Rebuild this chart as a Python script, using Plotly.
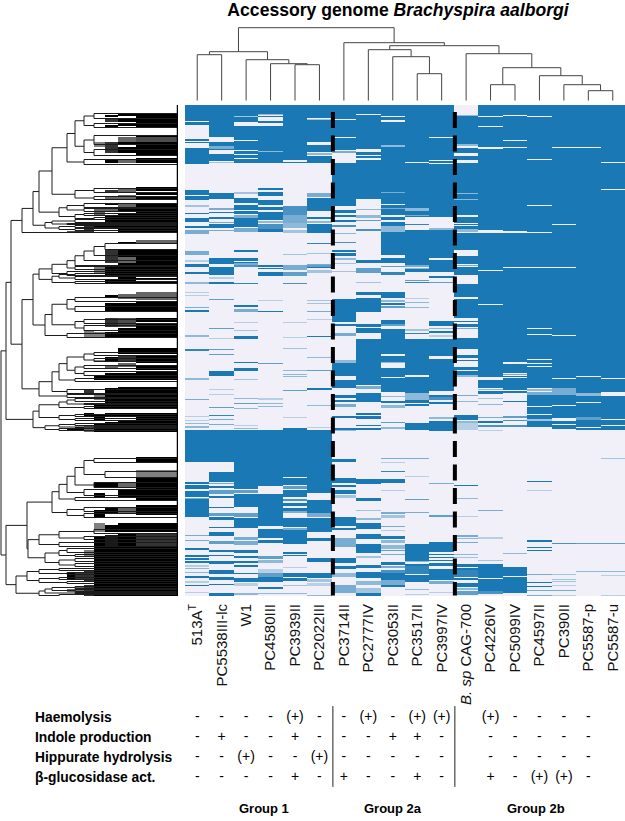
import numpy as np
import plotly.graph_objects as go

# strain order along the heatmap
strains = ["513A<sup>T</sup>", "PC5538III-lc", "W1", "PC4580III", "PC3939II", "PC2022III",
           "PC3714II", "PC2777IV", "PC3053II", "PC3517II", "PC3997IV", "<i>B. sp</i> CAG-700",
           "PC4226IV", "PC5099IV", "PC4597II", "PC390II", "PC5587-p", "PC5587-u"]
n_genes = 491

# gene presence per strain: (first row, end row[, level]), everything else is absent
c0 = [(0,16),(17,20),(34,36),(37,38),(43,59),(85,90),(91,95),(100,102,.4),(108,109),(113,117),(121,123),(125,129,.6),(146,150,.6),
      (155,157,.3),(159,162),(167,169),(177,179,.5),(187,188,.3),(190,191,.3),(202,203,.6),(205,207),(230,232,.5),(244,246,.9),(273,275,.5),(294,295,.6),(311,312,.3),(315,316,.3),(318,319,.5),(321,323,.5),
      (325,357),(377,379),(380,382),(382,384),(386,392),(393,394,.6),(394,412),(430,431,.6),(435,436,.6),(443,445),(450,452),(453,455),(456,458),(460,462,.3),(463,464,.5),(467,468,.5),(471,473),(476,478,.3),(480,481),(487,488,.3)]
c1 = [(0,32),(37,41),(41,44,.6),(44,45),(49,56),(57,58,.4),(88,94),(103,105,.6),(107,108),(112,114),(117,118,.6),(119,123),(125,126,.6),(153,159),
      (155,158),(162,170),(172,174,.3),(177,179),(194,195,.7),(223,224,.7),(233,234,.3),(244,245,.7),(249,250,.7),(266,271),(284,285,.3),(289,290,.3),(302,303,.7),(310,311,.9),(314,315,.6),(319,320,.6),
      (325,357),(367,377),(378,379,.6),(381,383),(385,389,.7),(391,393),(402,403),(408,411,.7),(412,415),(422,423),(427,431),(436,439,.7),(445,447),(450,451),(456,459),(465,469),(472,475),(479,480),(488,491)]
c2 = [(0,11),(11,12,.4),(12,17),(21,35),(36,45),(46,49),(50,53),(54,58),(87,88,.4),(88,89,.4),(93,98),(100,105),(106,109),(110,113,.6),(113,122),(123,127,.6),(145,147),(153,156),(157,158),(158,160,.6),
      (160,162,.8),(178,179,.9),(200,202),(204,207,.6),(217,218,.3),(225,226,.4),(231,234),(257,258),(263,266),(274,275,.4),(293,294,.5),(298,299,.7),(303,304,.5),(320,321,.3),(323,324,.5),
      (325,384),(385,388,.7),(389,402),(408,412,.7),(413,423),(432,435,.6),(436,440,.6),(445,448),(451,453),(456,458),(460,462),(468,469),(473,477),(478,481,.3),(488,490,.5)]
c3 = [(0,9),(9,10,.5),(11,12),(16,18),(21,46),(46,47,.5),(47,58),(83,85),(87,91),(95,100),(102,105),(107,115),(116,118,.5),(119,124,.8),(124,127),
      (160,162),(163,164),(167,171),(195,196,.3),(206,207),(258,259,.7),(293,295,.3),(298,299,.5),(301,302,.5),
      (325,381),(389,395),(395,421),(424,433),(435,438),(451,454,.7),(455,458,.5),(464,468,.3),(468,472,.7),(472,477),(482,484),(488,489,.5)]
c4 = [(0,55),(57,58),(101,110,.8),(110,113,.6),(113,118,.6),(118,123,.5),(125,128,.4),(149,150,.4),
      (160,165,.6),(167,171,.7),(178,179,.8),(217,218,.3),(232,233,.3),(243,244,.4),(265,266,.5),(269,270,.5),(271,272,.5),(285,286,.7),(312,313,.3),(323,325),
      (325,372),(373,380),(381,384,.7),(385,392),(394,396,.8),(398,401),(403,406),(406,408,.6),(413,422),(423,425,.6),(425,439),(447,449),(450,451),(462,463,.3),(468,472),(473,476),(480,481,.4),(488,489,.5)]
c5 = [(0,13),(14,15,.4),(15,37),(40,47),(48,50,.5),(51,58),(88,92,.6),(93,106),(112,114),(116,118,.5),(119,128),(138,139,.9),(148,149,.4),(159,160,.6),
      (160,162,.7),(162,163),(165,168,.4),(195,196,.4),(198,199,.4),(206,207,.6),(214,215,.3),(231,232),(252,253,.5),(265,266,.7),(283,285),(300,301,.5),(322,323,.3),
      (325,388),(395,408),(408,412,.6),(413,427),(433,436),(453,457),(468,473),(474,477,.4),(478,481,.3),(490,491,.5)]
c6 = [(0,14),(15,32),(33,45),(46,48,.6),(58,101),(105,108),(110,112),(115,117),(120,122,.8),(128,129,.5),(137,138,.8),(145,147),(148,151),(153,155,.5),
      (158,159,.4),(166,167,.4),(194,207),(207,209,.6),(207,217),(219,221),(228,231,.6),(255,258,.5),(258,271),(275,283),(290,293),(295,297),(299,302,.6),(311,313),(323,325),
      (325,326,.5),(354,357),(373,378),(380,382),(385,389),(390,393,.4),(412,421),(423,425),(433,442,.6),(453,458),(461,464),(468,472,.5),(480,488,.6)]
c7 = [(0,9),(10,44),(47,50),(51,53),(55,94),(104,105,.5),(110,113,.5),(115,116,.7),(124,126,.8),
      (155,158),(163,168,.7),(177,178,.4),(187,190),(193,207),(219,222),(223,228),(234,257),(257,280),(281,284,.6),(288,297),(308,310),(311,314),(320,321),(323,325),
      (374,379),(393,396),(405,406,.4),(413,415,.5),(418,424),(429,434),(439,448),(451,453,.4),(460,463),(467,473),(476,480,.5),(483,488,.4),(488,491)]
c8 = [(0,11),(12,15),(17,40),(40,42,.5),(42,87),(87,88,.6),(88,99),(100,103),(103,104,.6),(104,110),(112,115),(117,121),(121,127,.5),(127,150),(153,158),
      (161,162,.7),(167,170,.9),(187,193),(195,197,.5),(198,200),(201,203,.7),(215,219),(219,221,.7),(224,233),(233,249),(251,257),(257,258,.5),(263,272),(273,274,.6),(273,287),(291,292,.5),(296,298),(300,303,.5),(317,318,.7),(322,324,.5),
      (353,354,.6),(357,358,.3),(366,367,.9),(374,378),(385,386,.3),(407,409,.6),(410,412,.4),(412,413,.4),(421,422,.6),(425,426,.3),(431,434),(435,438,.5),(440,444,.5),(445,446,.7),(449,450,.6),(457,460),(461,463,.6),(465,468,.8),(468,475),(475,480,.6),(480,482)]
c9 = [(0,57),(58,103),(103,106,.5),(106,110),(110,111,.6),(111,112),(119,120,.9),(125,160),
      (155,159),(160,162,.6),(163,164,.5),(164,167),(175,176,.7),(177,178,.9),(193,194,.3),(197,198,.5),(202,203,.5),(224,226,.4),(228,229,.9),(234,270),(272,288),(288,295,.5),(295,298),(299,301),(318,325),
      (353,354,.6),(371,372,.3),(394,395,.7),(407,408,.6),(439,456),(456,457,.5),(459,461),(461,469,.9),(470,477),(484,485,.5),(489,490,.3)]
c10 = [(0,32),(33,55),(56,58),(59,112),(123,125,.5),(125,153),(155,167),(171,173),(177,178,.7),(216,221),(223,224,.5),(226,228),(230,232,.3),(234,251),(254,286),(290,292),(292,295,.8),(297,299),(312,314,.5),(316,320),(320,325),
       (325,326),(378,379,.6),(410,412,.7),(437,447),(449,450),(452,453),(455,456),(458,461),(464,466),(466,475),(476,479,.6),(487,488,.3)]
c11 = [(10,11,.5),(11,39),(39,41,.5),(43,48),(51,55),(58,88),(88,89,.5),(89,94),(94,95,.5),(95,110),(112,118),(119,120),(121,124),(124,127,.5),(128,145),(151,158),
       (155,159),(160,161,.6),(162,170),(179,192),(194,213),(216,217),(219,222),(223,224,.6),(233,244),(250,253),(255,256),(262,265),(266,270),(270,272,.5),(290,291,.6),(296,297,.5),(310,315),(316,318,.5),(318,325,.3),
       (380,381),(393,394,.5),(411,412,.3),(430,432,.6),(433,434,.5),(437,438,.6),(449,450,.5),(452,453,.4),(459,462),(463,465),(465,472,.9),(473,475),(478,482),(483,485,.5),(486,490,.7)]
c12 = [(0,11),(12,21),(22,42),(44,125),(128,165),(166,199),(200,272),(275,283),(284,285,.5),(286,289),(293,294,.4),(299,300,.5),(312,313,.6),(316,318),(320,322,.8),
       (325,326,.3),(405,406,.6),(432,434,.3),(455,456,.4),(459,465),(465,473),(474,486),(486,489,.8)]
c13 = [(0,10),(11,35),(36,42),(43,126),(128,162),(163,257),(259,268),(269,270,.6),(271,272),(273,285),(286,288),(296,297),(311,313,.7),(315,316,.8),(320,322,.8),
       (448,449,.5),(462,471),(472,488)]
c14 = [(0,11),(12,54),(55,100),(101,127),(128,162),(163,223),(224,229),(230,254),(255,258),(259,261),(262,283),(284,286,.5),(287,290,.6),(290,301),(302,309),(310,314),(314,316,.4),(316,322),
       (376,377),(385,386,.3),(435,437),(442,443),(445,446),(469,470,.6),(477,478),(481,482),(485,486,.6),(490,491,.6)]
c15 = [(0,42),(43,119),(120,162),(163,230),(231,273),(274,283),(283,290,.6),(290,300),(301,313),(316,319),(320,324),
       (438,439,.8),(469,470,.4),(474,475,.4),(476,477,.4),(480,481,.3),(485,486,.6),(490,491,.3)]
c16 = [(0,42),(43,271),(272,288),(288,291,.5),(291,297),(298,312),(312,315,.7),(315,322),(323,325),
       (438,439,.7),(466,467,.5)]
c17 = [(0,57),(58,84),(85,273),(274,287),(291,314),(315,320),(321,325),
       (353,354,.4),(438,439,.7),(466,467,.5),(470,471,.3),(490,491,.3)]
columns = [c0, c1, c2, c3, c4, c5, c6, c7, c8, c9, c10, c11, c12, c13, c14, c15, c16, c17]

# strain dendrogram: (height, child, child), leaves are strain numbers
left_group = (49, (46, 0, 1), (41, 2, (37, 3, (36, 4, 5))))
mid_group = (51, 7, (44, 8, (27, 9, 10)))
right_group = (47, 11, (33, (16, 12, 13), (25, 14, (16, 15, (10, 16, 17)))))
strain_tree = (73, left_group, (58, 6, (55, mid_group, right_group)))

# gene dendrogram: (distance from root, child, child), leaves are gene rows
t_a = (75, (84, (94, 8, 13), (94, 18, 22)), (84, (94, 30, 39), (94, 44, 50)))
t_b = (52, (67, t_a, (84, 54, 59)), (75, (94, 83, 87), (94, 91, 94)))
t_c = (59, (67, (84, 98, 102), (84, 103, 106)), (75, (84, 108, 110), (94, 112, 114)))
t_d = (45, (52, (75, 114, 117), (67, 118, 119)), (59, (75, 120, 122), (75, 123, 125)))
t_e1 = (52, (67, (75, (84, (94, (105, 138, 144), 150), 155), 160), (75, 161, 164)), (67, 166, 170))
t_e2 = (52, (59, (75, 168, 170), (75, 171, 174)), (75, 176, 178))
t_f = (45, (52, (67, (75, 192, 196), (75, 201, 206)), (75, (84, 214, 218), (84, 220, 225))), (67, 228, 232))
t_g = (39, (52, (59, (67, (84, (94, 247, 250), (94, 253, 256)), (75, (84, 260, 263), (84, 266, 270))), (75, 273, 276)), (67, 284, 288)), (67, 289, 292))
t_h = (33, (39, (59, (67, (75, 293, 296), (84, 298, 299)), (84, 301, 303)), (59, (75, 309, 311), (75, 313, 315))),
       (45, (59, (75, 318, 320), (94, 321, 322)), (59, 323, 325)))
t_i = (75, (84, (94, 353, 357), (105, 366, 372)), (94, 377, 382))
t_j = (52, (59, (67, t_i, (84, 384, 390)), (75, 392, 395)), (67, (84, 402, 406), (84, 408, 412)))
t_l = (39, (59, (94, 424, 428), (84, 431, 434)), (59, 437, 441))
t_m = (45, (59, (67, 443, 447), (75, 449, 451)), (59, (75, 453, 456), (75, 458, 461)))
t_n = (16, (27, (39, (59, 463, 465), (67, 467, 469)), (39, (59, 472, 474), (67, 476, 478))),
       (39, (45, (52, (75, 481, 483), (75, 484, 486)), (75, 487, 488)), (59, 489, 491)))
upper = (6, (11, (22, (33, (39, t_b, t_c), t_d), 127),
             (22, (33, (39, t_e1, t_e2), t_f), t_g)), t_h)
lower = (6, (27, t_j, (28, t_l, t_m)), t_n)
gene_tree = (1, upper, lower)

# dark bands of the dendrogram's leaf end, one list per distance step
step_edges = [67, 75, 84, 94, 105, 118, 136, 177]
step_g = [(126,128,.7),(323,325),(468,474),(484,487,.6)]
step_f = [(125,128,.8),(322,325),(467,475,.8),(482,490,.6)]
step_e = [(120,128,.8),(226,232,.5),(285,290,.8),(308,312),(320,327,.6),(445,452,.5),(466,477,.8),(480,491,.8)]
step_d = [(37,42,.5),(102,110,.6),(117,123),(160,168,.5),(227,233,.5),(255,257,.5),(270,275),(288,295,.5),(298,303),(310,315),(318,327),(378,383),(388,393),(405,412),(418,427,.5),(432,442),(442,491)]
step_c = [(10,12),(14,17,.8),(20,22),(37,48,.8),(55,58),(85,88,.8),(92,94,.6),(98,100),(102,107,.6),(110,123),(145,158,.8),(160,170),(175,178),(190,193),(198,207),(213,222,.8),(227,233),(252,257),(260,263,.6),(268,275),(283,303),(308,312),(317,327),(378,383),(402,408),(420,427),(430,442,.9),(442,491)]
step_b = [(9,11),(13,17),(18,21),(32,37,.6),(37,40),(42,48),(54,58,.6),(83,87,.6),(90,94,.6),(98,102,.6),(103,106),(108,128),(137,138),(145,152),(152,158,.6),(158,170),(172,178),(189,194,.6),(198,201),(202,207),(213,222,.7),(223,232),(243,249),(250,257,.8),(258,262,.6),(268,275),(282,303),(308,312),(315,327),(377,383,.6),(385,393),(402,408,.6),(418,427),(429,442),(442,491)]
step_a = [(8,22),(30,32),(32,37,.7),(37,50),(53,58),(82,86),(87,90),(91,95),(98,128),(135,138,.6),(144,162),(162,170),(173,175),(176,178),(187,195,.6),(197,207),(213,217),(218,233),(243,249),(250,258),(260,265),(267,268),(268,275),(282,303),(308,327),(352,357),(365,372,.5),(372,395),(400,410),(418,427),(428,442,.8),(442,491)]
steps = [step_g, step_f, step_e, step_d, step_c, step_b, step_a]

# phenotype table, blank where the strain was not tested
traits = ["Haemolysis", "Indole production", "Hippurate hydrolysis", "β-glucosidase act."]
haemolysis = ["-","-","-","-","(+)","-","-","(+)","-","(+)","(+)","","(+)","-","-","-","-",""]
indole = ["-","+","-","-","+","-","-","-","+","+","-","","-","-","-","-","-",""]
hippurate = ["-","-","(+)","-","-","(+)","-","-","-","-","-","","-","-","-","-","-",""]
glucosidase = ["-","-","-","-","+","-","+","-","-","+","-","","+","-","(+)","(+)","-",""]
groups = ["Group 1", "Group 2a", "Group 2b"]
group_centers = [2.73, 8.0, 13.85]
group_breaks = [5.55, 10.54]

FONT = "Liberation Sans"


def fill_bands(z, bands, col):
    for band in bands:
        z[band[0]:band[1], col] = band[2] if len(band) > 2 else 1


def walk_tree(node, xs, ys, end):
    # returns the position of the node, appends its bracket to xs / ys
    if not isinstance(node, tuple):
        return node, end
    dist, a, b = node
    pos_a, dist_a = walk_tree(a, xs, ys, end)
    pos_b, dist_b = walk_tree(b, xs, ys, end)
    xs += [dist_a, dist, dist, dist_b, None]
    ys += [pos_a, pos_a, pos_b, pos_b, None]
    return (pos_a + pos_b) / 2, dist


heat = np.zeros((n_genes, len(strains)))
for i, bands in enumerate(columns):
    fill_bands(heat, bands, i)

mass = np.zeros((n_genes, len(steps)))
for i, bands in enumerate(steps):
    fill_bands(mass, bands, i)

fig = go.Figure()

fig.add_trace(go.Heatmap(z=heat, x=list(range(len(strains))), y=list(range(n_genes)), zmin=0, zmax=1, showscale=False,
                         colorscale=[[0, "#f1f0f8"], [0.5, "#8fb9d9"], [1, "#1a78b4"]], hoverinfo="skip"))
fig.add_trace(go.Heatmap(z=mass, x=step_edges, y=list(range(n_genes)), zmin=0, zmax=1, showscale=False, xaxis="x2",
                         colorscale=[[0, "#ffffff"], [1, "#000000"]], hoverinfo="skip"))

# gene dendrogram
gx, gy = [], []
walk_tree(gene_tree, gx, gy, 177)
fig.add_trace(go.Scatter(x=gx, y=gy, mode="lines", xaxis="x2", line=dict(color="#1c1c1c", width=1), hoverinfo="skip"))
fig.add_trace(go.Scatter(x=[177.5, 177.5], y=[-1, n_genes], mode="lines", xaxis="x2", cliponaxis=False,
                         line=dict(color="black", width=1.5), hoverinfo="skip"))

# strain dendrogram
sx, sy = [], []
walk_tree(strain_tree, sy, sx, 0)
fig.add_trace(go.Scatter(x=sx, y=sy, mode="lines", yaxis="y2", cliponaxis=False,
                         line=dict(color="#444444", width=1), hoverinfo="skip"))

# dashed group breaks over the heatmap
for b in group_breaks:
    fig.add_trace(go.Scatter(x=[b, b], y=[-17, 490], mode="lines", cliponaxis=False,
                             line=dict(color="black", width=4, dash="16px,7.5px"), hoverinfo="skip"))
    fig.add_trace(go.Scatter(x=[b, b], y=[-0.54, 3.44], mode="lines", yaxis="y3", cliponaxis=False,
                             line=dict(color="#222222", width=1), hoverinfo="skip"))

# phenotype signs, only where a strain has one
for i, row in enumerate([haemolysis, indole, hippurate, glucosidase]):
    cols = [c for c, s in enumerate(row) if s]
    fig.add_trace(go.Scatter(x=cols, y=[i] * len(cols), text=[row[c] for c in cols], mode="text", yaxis="y3",
                             textfont=dict(family=FONT, size=14, color="black"), hoverinfo="skip"))

annotations = []
for i, t in enumerate(traits):
    annotations.append(dict(text="<b>%s</b>" % t, x=33 / 625, xref="paper", y=i, yref="y3", xanchor="left",
                            showarrow=False, font=dict(family=FONT, size=13.8, color="black")))
for g, c in zip(groups, group_centers):
    annotations.append(dict(text="<b>%s</b>" % g, x=c, xref="x", y=4.5, yref="y3", showarrow=False,
                            font=dict(family=FONT, size=13, color="black")))

fig.update_layout(
    width=625, height=821,
    margin=dict(l=0, r=0, t=0, b=0),
    paper_bgcolor="white", plot_bgcolor="white",
    showlegend=False,
    title=dict(text="<b>Accessory genome <i>Brachyspira aalborgi</i></b>", x=398 / 625, xanchor="center",
               y=1 - 10 / 821, yanchor="middle", font=dict(family=FONT, size=17.6, color="black")),
    xaxis=dict(domain=[185 / 625, 1], range=[-0.5, 17.5], tickmode="array", tickvals=list(range(len(strains))),
               ticktext=strains, tickangle=-90, ticks="outside", ticklen=1, tickcolor="rgba(0,0,0,0)",
               anchor="y", showgrid=False, zeroline=False,
               tickfont=dict(family=FONT, size=15, color="#111111")),
    yaxis=dict(domain=[1 - 596 / 821, 1 - 105 / 821], range=[490.5, -0.5], visible=False),
    xaxis2=dict(domain=[0, 178 / 625], range=[0, 178], visible=False, anchor="y"),
    yaxis2=dict(domain=[1 - 100.7 / 821, 1 - 27 / 821], range=[0, 73.7], visible=False, anchor="x"),
    yaxis3=dict(domain=[0, 1 - 700 / 821], range=[5.12, -0.84], visible=False, anchor="x"),
    annotations=annotations,
)

# the page's default body margin would push the figure off the window
fig.write_html("out.html", config={"displayModeBar": False}, post_script="document.body.style.margin='0';")
